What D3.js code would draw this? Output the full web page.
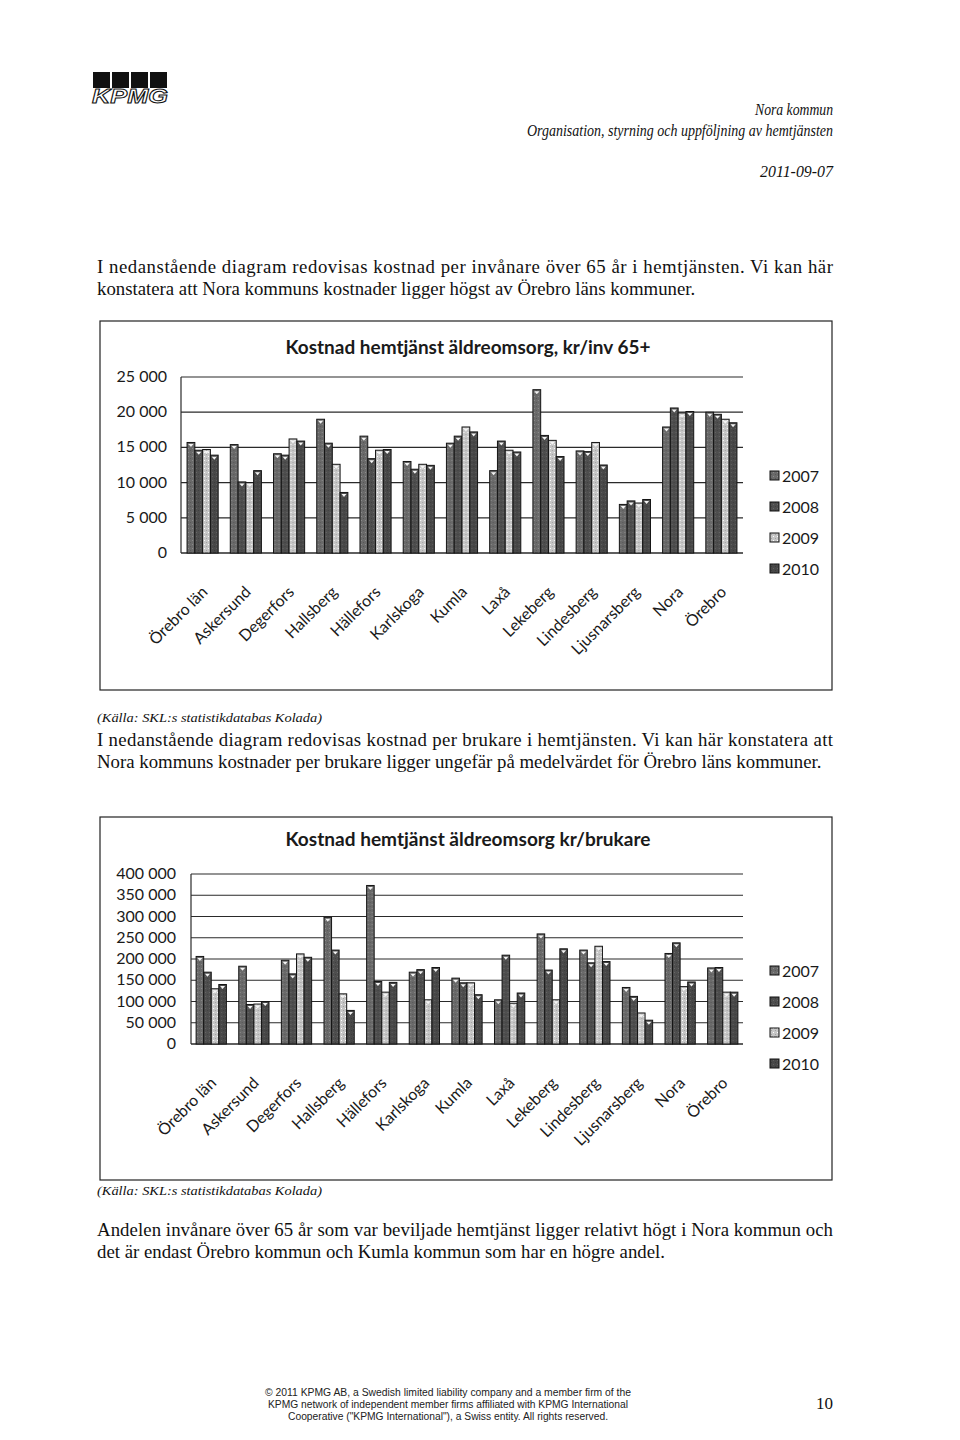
<!DOCTYPE html>
<html>
<head>
<meta charset="utf-8">
<script src="https://cdn.jsdelivr.net/npm/d3@7"></script>
<style>
  body { margin: 0; background: #fff; }
  svg { display: block; }
</style>
</head>
<body>
<svg id="page" width="960" height="1440"></svg>
<script>
// municipalities along the x axis
const categories = ["Örebro län", "Askersund", "Degerfors", "Hallsberg", "Hällefors", "Karlskoga",
  "Kumla", "Laxå", "Lekeberg", "Lindesberg", "Ljusnarsberg", "Nora", "Örebro"];
const years = ["2007", "2008", "2009", "2010"];

// chart 1: kr per inhabitant 65+
const inv2007 = [15700, 15400, 14100, 19000, 16600, 13000, 15600, 11700, 23200, 14500, 6900, 17900, 20000];
const inv2008 = [14600, 10100, 13900, 15600, 13400, 11900, 16600, 15900, 16700, 14400, 7400, 20600, 19700];
const inv2009 = [14700, 10000, 16200, 12600, 14600, 12600, 17900, 14600, 16000, 15700, 7100, 19900, 19000];
const inv2010 = [13900, 11700, 15900, 8600, 14700, 12450, 17200, 14350, 13700, 12500, 7600, 20100, 18500];
const invTicks = [0, 5000, 10000, 15000, 20000, 25000];

// chart 2: kr per user
const brk2007 = [206000, 183000, 197000, 298000, 373000, 169000, 155000, 104000, 259000, 221000, 133000, 213000, 179000];
const brk2008 = [169000, 93000, 165000, 221000, 147000, 175000, 144000, 209000, 174000, 191000, 112000, 238000, 180000];
const brk2009 = [130000, 94000, 212000, 118000, 122000, 104000, 144000, 96000, 104000, 230000, 73000, 135000, 122000];
const brk2010 = [140000, 100000, 204000, 79000, 145000, 180000, 116000, 120000, 224000, 194000, 56000, 146000, 122000];
const brkTicks = [0, 50000, 100000, 150000, 200000, 250000, 300000, 350000, 400000];

const svg = d3.select("#page");
const serif = "'Liberation Serif', 'Times New Roman', serif";
const sans = "Lato, Carlito, Calibri, sans-serif";
const fmt = d3.formatLocale({ decimal: ",", thousands: " ", grouping: [3], currency: ["", ""] }).format(",");

// scanned grey fills
const fills = ["#6a6a6a", "#4e4e4e", "#c6c6c6", "#484848"];
const defs = svg.append("defs");
fills.forEach((c, i) => {
  const p = defs.append("pattern").attr("id", "fill" + i)
    .attr("width", 4).attr("height", 4).attr("patternUnits", "userSpaceOnUse");
  p.append("rect").attr("width", 4).attr("height", 4).attr("fill", c);
  p.append("rect").attr("x", 1).attr("y", 0).attr("width", 1).attr("height", 1)
    .attr("fill", d3.color(c).brighter(0.8));
  p.append("rect").attr("x", 3).attr("y", 2).attr("width", 1).attr("height", 1)
    .attr("fill", d3.color(c).darker(0.6));
});

// ---------- page header ----------
const logo = svg.append("g");
[93, 112, 131, 150].forEach(x => {
  logo.append("rect").attr("x", x).attr("y", 72).attr("width", 17).attr("height", 16).attr("fill", "#111");
});
logo.append("text").attr("x", 92).attr("y", 103)
  .attr("font-family", "'Liberation Sans', Arial, sans-serif").attr("font-style", "italic")
  .attr("font-weight", 700).attr("font-size", 21).attr("textLength", 76)
  .attr("lengthAdjust", "spacingAndGlyphs")
  .attr("fill", "#fff").attr("stroke", "#111").attr("stroke-width", 1).text("KPMG");

const head = [
  { t: "Nora kommun", y: 115, w: 78 },
  { t: "Organisation, styrning och uppföljning av hemtjänsten", y: 136, w: 306 },
  { t: "2011-09-07", y: 177, w: 73 }
];
head.forEach(h => {
  svg.append("text").attr("x", 833).attr("y", h.y).attr("text-anchor", "end")
    .attr("font-family", serif).attr("font-style", "italic").attr("font-size", 16)
    .attr("textLength", h.w).attr("lengthAdjust", "spacingAndGlyphs")
    .attr("fill", "#111").text(h.t);
});

// body paragraphs: first line justified, last line natural width
function para(lines, y0) {
  lines.forEach((l, i) => {
    const t = svg.append("text").attr("x", 97).attr("y", y0 + i * 22)
      .attr("font-family", serif).attr("font-size", 18.8)
      .attr("fill", "#111").text(l.t);
    if (l.w) t.attr("textLength", l.w).attr("lengthAdjust", "spacing");
  });
}
function source(y) {
  svg.append("text").attr("x", 97).attr("y", y)
    .attr("font-family", serif).attr("font-style", "italic").attr("font-size", 13)
    .attr("textLength", 225).attr("lengthAdjust", "spacingAndGlyphs")
    .attr("fill", "#111").text("(Källa: SKL:s statistikdatabas Kolada)");
}

para([
  { t: "I nedanstående diagram redovisas kostnad per invånare över 65 år i hemtjänsten. Vi kan här", w: 736 },
  { t: "konstatera att Nora kommuns kostnader ligger högst av Örebro läns kommuner." }
], 273);

// ---------- chart drawing ----------
function drawChart(cfg) {
  const g = svg.append("g");
  g.append("rect").attr("x", cfg.box[0]).attr("y", cfg.box[1])
    .attr("width", cfg.box[2] - cfg.box[0]).attr("height", cfg.box[3] - cfg.box[1])
    .attr("fill", "none").attr("stroke", "#222").attr("stroke-width", 1.2);

  g.append("text").attr("x", 468).attr("y", cfg.titleY).attr("text-anchor", "middle")
    .attr("font-family", sans).attr("font-weight", 700).attr("font-size", 18)
    .attr("textLength", 365).attr("lengthAdjust", "spacingAndGlyphs")
    .attr("fill", "#1a1a1a").text(cfg.title);

  const y = d3.scaleLinear().domain([0, cfg.ticks[cfg.ticks.length - 1]]).range(cfg.yRange);
  const x = d3.scaleBand().domain(categories).range(cfg.xRange)
    .paddingInner(cfg.padIn).paddingOuter(cfg.padOut);
  const xs = d3.scaleBand().domain(years).range([0, x.bandwidth()]);

  // gridlines
  g.selectAll(".grid").data(cfg.ticks).join("line")
    .attr("x1", cfg.xRange[0]).attr("x2", cfg.xRange[1])
    .attr("y1", d => y(d)).attr("y2", d => y(d))
    .attr("stroke", "#2a2a2a").attr("stroke-width", d => d === 0 ? 1.6 : 1.2);
  g.append("line").attr("x1", cfg.xRange[0]).attr("x2", cfg.xRange[0])
    .attr("y1", cfg.yRange[0]).attr("y2", cfg.yRange[1])
    .attr("stroke", "#2a2a2a").attr("stroke-width", 1.2);

  // y tick labels
  g.selectAll(".ylab").data(cfg.ticks).join("text")
    .attr("x", cfg.labelRight).attr("y", d => y(d) + 5).attr("text-anchor", "end")
    .attr("font-family", sans).attr("font-size", 16).attr("fill", "#1a1a1a")
    .text(d => fmt(d));

  // bars
  const groups = g.selectAll(".grp").data(categories).join("g")
    .attr("transform", c => `translate(${x(c)},0)`);
  groups.each(function (c, ci) {
    const gg = d3.select(this);
    cfg.series.forEach((vals, si) => {
      const v = vals[ci];
      const bx = xs(years[si]), bw = xs.bandwidth();
      gg.append("rect").attr("x", bx).attr("y", y(v))
        .attr("width", bw).attr("height", y(0) - y(v))
        .attr("fill", `url(#fill${si})`).attr("stroke", "#151515").attr("stroke-width", 1);
      const cx = bx + bw / 2, ty = y(v);
      gg.append("path")
        .attr("d", `M${cx - 2.5},${ty + 1.5}L${cx + 2.5},${ty + 1.5}L${cx},${ty + 4.5}Z`)
        .attr("fill", "#f4f4f4");
    });
  });

  // x labels, rotated
  g.selectAll(".xlab").data(categories).join("text")
    .attr("transform", c => `translate(${x(c) + x.bandwidth() / 2 + 6},${cfg.yRange[0] + 40}) rotate(-45)`)
    .attr("text-anchor", "end").attr("font-family", sans).attr("font-size", 16)
    .attr("fill", "#1a1a1a").text(c => c);

  // legend
  years.forEach((yr, i) => {
    const ly = cfg.legendY + i * 31;
    g.append("rect").attr("x", 770).attr("y", ly - 5).attr("width", 9).attr("height", 9)
      .attr("fill", `url(#fill${i})`).attr("stroke", "#111").attr("stroke-width", 1);
    g.append("text").attr("x", 782).attr("y", ly + 6)
      .attr("font-family", sans).attr("font-size", 16).attr("fill", "#1a1a1a").text(yr);
  });
}

drawChart({
  box: [100, 321, 832, 690],
  title: "Kostnad hemtjänst äldreomsorg, kr/inv 65+",
  titleY: 354,
  ticks: invTicks,
  yRange: [553, 377],
  xRange: [181, 743],
  padIn: 0.28, padOut: 0.14,
  labelRight: 167,
  legendY: 476,
  series: [inv2007, inv2008, inv2009, inv2010]
});

source(722);

para([
  { t: "I nedanstående diagram redovisas kostnad per brukare i hemtjänsten. Vi kan här konstatera att", w: 736 },
  { t: "Nora kommuns kostnader per brukare ligger ungefär på medelvärdet för Örebro läns kommuner." }
], 746);

drawChart({
  box: [100, 817, 832, 1180],
  title: "Kostnad hemtjänst äldreomsorg kr/brukare",
  titleY: 846,
  ticks: brkTicks,
  yRange: [1044, 874],
  xRange: [191, 743],
  padIn: 0.29, padOut: 0.12,
  labelRight: 176,
  legendY: 971,
  series: [brk2007, brk2008, brk2009, brk2010]
});

source(1195);

para([
  { t: "Andelen invånare över 65 år som var beviljade hemtjänst ligger relativt högt i Nora kommun och", w: 736 },
  { t: "det är endast Örebro kommun och Kumla kommun som har en högre andel." }
], 1236);

// ---------- footer ----------
const foot = [
  { t: "© 2011 KPMG AB, a Swedish limited liability company and a member firm of the", w: 366 },
  { t: "KPMG network of independent member firms affiliated with KPMG International", w: 360 },
  { t: "Cooperative (\"KPMG International\"), a Swiss entity. All rights reserved.", w: 320 }
];
foot.forEach((f, i) => {
  svg.append("text").attr("x", 448).attr("y", 1396 + i * 12).attr("text-anchor", "middle")
    .attr("font-family", "'Liberation Sans', Arial, sans-serif").attr("font-size", 10)
    .attr("textLength", f.w).attr("lengthAdjust", "spacingAndGlyphs")
    .attr("fill", "#222").text(f.t);
});
svg.append("text").attr("x", 833).attr("y", 1409).attr("text-anchor", "end")
  .attr("font-family", serif).attr("font-size", 17).attr("fill", "#111").text("10");
</script>
</body>
</html>
